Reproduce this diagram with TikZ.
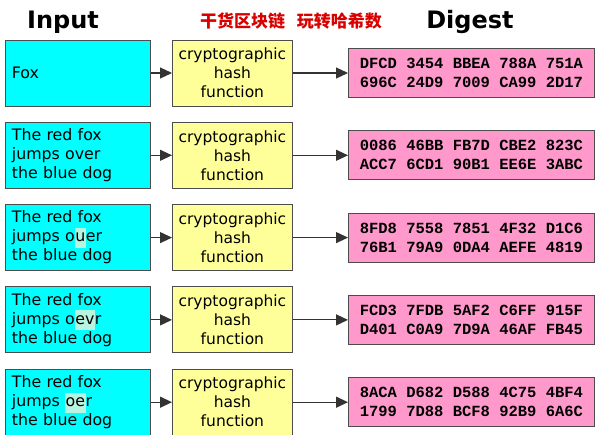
\documentclass[tikz,border=0pt]{standalone}
\usepackage{fontspec}
\setmainfont{DejaVu Sans}
\newfontfamily\hexfont{Liberation Mono}
\newfontfamily\cjk{Noto Sans CJK SC}
\usetikzlibrary{arrows.meta}
\definecolor{hl}{HTML}{B8F5E0}
\definecolor{incol}{HTML}{00FFFF}
\definecolor{hashcol}{HTML}{FFFF99}
\definecolor{digcol}{HTML}{FF99CC}
\newcommand{\hlt}[1]{{\setlength{\fboxsep}{0.5pt}\colorbox{hl}{\strut #1}}}
\begin{document}
\begin{tikzpicture}[x=1pt,y=-1pt,
  inbox/.style={draw=black!70,fill=incol,line width=0.8pt,minimum width=145pt,minimum height=66pt,anchor=west,inner sep=0pt,font=\fontsize{15.8}{19}\selectfont,align=left,text width=132pt},
  hashbox/.style={draw=black!70,fill=hashcol,line width=0.8pt,minimum width=120pt,minimum height=66pt,anchor=west,inner sep=0pt,font=\fontsize{15.5}{19}\selectfont,align=center},
  digbox/.style={draw=black!70,fill=digcol,line width=0.8pt,minimum width=246pt,minimum height=49pt,anchor=west,inner sep=0pt,font=\hexfont\bfseries\fontsize{15.5}{19}\selectfont,align=center},
  arr/.style={draw=black!80,line width=1.2pt,-{Triangle[length=12pt,width=11pt]}},
  title/.style={font=\bfseries\fontsize{24}{28}\selectfont}]
\useasboundingbox (0,0) rectangle (600,435);
\fill[white] (0,0) rectangle (600,435);
\node[title] (tin) at (63,22) {Input};
\node[title] (tdg) at (470,22) {Digest};
\node[font=\cjk\bfseries\fontsize{17}{20}\selectfont,text=red!85!black] (tcn) at (291,21) {干货区块链\hspace{12pt}玩转哈希数};
\foreach \i/\txt/\dig in {
 0/{Fox}/{DFCD 3454 BBEA 788A 751A\\696C 24D9 7009 CA99 2D17},
 1/{The red fox\\jumps over\\the blue dog}/{0086 46BB FB7D CBE2 823C\\ACC7 6CD1 90B1 EE6E 3ABC},
 2/{The red fox\\jumps o\hlt{u}er\\the blue dog}/{8FD8 7558 7851 4F32 D1C6\\76B1 79A9 0DA4 AEFE 4819},
 3/{The red fox\\jumps o\hlt{ev}r\\the blue dog}/{FCD3 7FDB 5AF2 C6FF 915F\\D401 C0A9 7D9A 46AF FB45},
 4/{The red fox\\jumps \hlt{oe}r\\the blue dog}/{8ACA D682 D588 4C75 4BF4\\1799 7D88 BCF8 92B9 6A6C}} {
  \pgfmathsetmacro\yy{73+82.3*\i}
  \node[inbox] (in\i) at (5,\yy) {\txt};
  \node[hashbox] (h\i) at (172,\yy) {cryptographic\\hash\\function};
  \node[digbox] (d\i) at (348,\yy) {\dig};
  \draw[arr] (in\i) -- (h\i);
  \draw[arr] (h\i) -- (d\i);
}
\end{tikzpicture}
\end{document}
